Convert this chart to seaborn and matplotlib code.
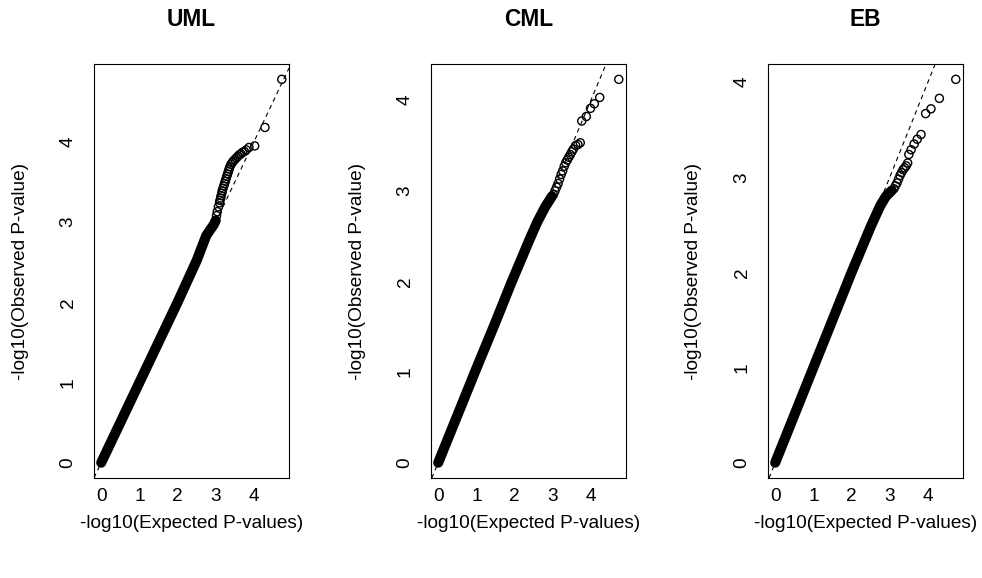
import matplotlib
matplotlib.use("Agg")
import matplotlib.pyplot as plt
import pandas as pd
import seaborn as sns

panel_titles = ["UML", "CML", "EB"]
x_label = "-log10(Expected P-values)"
y_label = "-log10(Observed P-value)"
tick_values = [0, 1, 2, 3, 4]

# Dense body of each Q-Q curve (expected vs observed -log10 p), traced along the band
uml_band_expected = [0.0, 0.5, 1.0, 1.5, 2.0, 2.5, 2.75, 2.95, 3.0]
uml_band_observed = [0.0, 0.5, 1.0, 1.5, 2.0, 2.52, 2.83, 2.97, 3.02]
cml_band_expected = [0.0, 0.5, 1.0, 1.5, 1.9, 2.2, 2.4, 2.6, 2.8, 2.98]
cml_band_observed = [0.0, 0.52, 1.04, 1.55, 1.97, 2.27, 2.47, 2.66, 2.82, 2.94]
eb_band_expected = [0.0, 0.5, 1.0, 1.5, 2.0, 2.5, 2.75, 2.9, 3.05]
eb_band_observed = [0.0, 0.5, 1.0, 1.5, 2.0, 2.48, 2.70, 2.80, 2.86]

# Sparse upper tail: individual tests
uml_tail_expected = [4.73, 4.29, 4.02, 3.87, 3.80, 3.75, 3.70, 3.66, 3.62, 3.58, 3.54,
                     3.50, 3.46, 3.43, 3.40, 3.37, 3.35, 3.33, 3.31, 3.29, 3.27, 3.25,
                     3.23, 3.21, 3.19, 3.17, 3.16, 3.14, 3.13, 3.11, 3.10, 3.07, 3.04, 3.02]
uml_tail_observed = [4.78, 4.18, 3.95, 3.93, 3.90, 3.88, 3.87, 3.85, 3.84, 3.82, 3.80,
                     3.78, 3.76, 3.74, 3.72, 3.69, 3.66, 3.63, 3.60, 3.57, 3.54, 3.51,
                     3.48, 3.45, 3.42, 3.39, 3.36, 3.33, 3.30, 3.27, 3.24, 3.19, 3.13, 3.08]
cml_tail_expected = [4.73, 4.23, 4.09, 3.99, 3.88, 3.76, 3.72, 3.66, 3.60, 3.54, 3.50,
                     3.46, 3.42, 3.38, 3.34, 3.30, 3.26, 3.22, 3.18, 3.14, 3.10, 3.06, 3.02]
cml_tail_observed = [4.23, 4.03, 3.96, 3.91, 3.82, 3.77, 3.53, 3.51, 3.50, 3.46, 3.43,
                     3.40, 3.37, 3.34, 3.31, 3.27, 3.22, 3.18, 3.13, 3.08, 3.04, 3.00, 2.96]
eb_tail_expected = [4.73, 4.30, 4.08, 3.94, 3.82, 3.72, 3.64, 3.56, 3.50, 3.47, 3.43,
                    3.39, 3.35, 3.31, 3.27, 3.23, 3.19, 3.15, 3.11]
eb_tail_observed = [4.03, 3.83, 3.72, 3.67, 3.45, 3.40, 3.35, 3.29, 3.24, 3.15, 3.12,
                    3.10, 3.08, 3.05, 3.02, 2.98, 2.94, 2.91, 2.88]

panels = [
    (uml_band_expected, uml_band_observed, uml_tail_expected, uml_tail_observed),
    (cml_band_expected, cml_band_observed, cml_tail_expected, cml_tail_observed),
    (eb_band_expected, eb_band_observed, eb_tail_expected, eb_tail_observed),
]

sns.set_theme(style="white")
plt.rcParams["font.family"] = ["Liberation Sans", "DejaVu Sans"]

W, H = 982, 578
fig = plt.figure(figsize=(W / 100, H / 100), dpi=100)
fig.patch.set_facecolor("white")

box_lefts = [94, 431, 768]
box_w, box_top, box_bottom = 195, 64, 478
box_h = box_bottom - box_top

for left, title, (be, bo, te, to) in zip(box_lefts, panel_titles, panels):
    ax = fig.add_axes([left / W, (H - box_bottom) / H, box_w / W, box_h / H])
    ax.set_facecolor("white")

    # reference line y = x
    ax.axline((0, 0), slope=1, color="black", linewidth=0.8,
              linestyle=(0, (4, 3.5)), zorder=1)

    band = pd.DataFrame({"expected": be, "observed": bo})
    sns.lineplot(data=band, x="expected", y="observed", sort=False, estimator=None,
                 color="black", linewidth=7.3, solid_capstyle="round", ax=ax, zorder=2)

    tail = pd.DataFrame({"expected": te, "observed": to})
    sns.scatterplot(data=tail, x="expected", y="observed", marker="o", s=34,
                    color="black", linewidth=1.0, ax=ax, zorder=3)
    ax.collections[-1].set_facecolor("none")
    ax.collections[-1].set_edgecolor("black")

    # R-style ranges: data span padded by 4% on each side
    xmin, xmax = min(be), max(te)
    ymin, ymax = min(bo), max(to)
    xr, yr = xmax - xmin, ymax - ymin
    ax.set_xlim(xmin - 0.04 * xr, xmax + 0.04 * xr)
    ax.set_ylim(ymin - 0.04 * yr, ymax + 0.04 * yr)

    ax.set_xticks(tick_values)
    ax.set_yticks(tick_values)
    ax.tick_params(axis="both", direction="out", length=5.5, width=0.8,
                   color="black", labelsize=13.7, labelcolor="black")
    ax.tick_params(axis="x", pad=1.5)
    ax.tick_params(axis="y", pad=7, labelrotation=90)
    for lab in ax.get_yticklabels():
        lab.set_verticalalignment("center")

    for sp in ax.spines.values():
        sp.set_visible(True)
        sp.set_color("black")
        sp.set_linewidth(0.8)

    ax.set_xlabel(x_label, fontsize=13.7, color="black")
    ax.set_ylabel(y_label, fontsize=13.7, color="black")
    ax.xaxis.set_label_coords(0.5, (box_bottom - 524) / box_h)
    ax.yaxis.set_label_coords((20 - 94) / box_w, 0.5)
    ax.xaxis.label.set_verticalalignment("center")
    ax.yaxis.label.set_verticalalignment("center")

    ax.text(0.5, (box_bottom - 19) / box_h, title, transform=ax.transAxes,
            ha="center", va="center", fontsize=16.4, fontweight="bold", color="black")

fig.savefig("out.png", dpi=100, facecolor="white")
